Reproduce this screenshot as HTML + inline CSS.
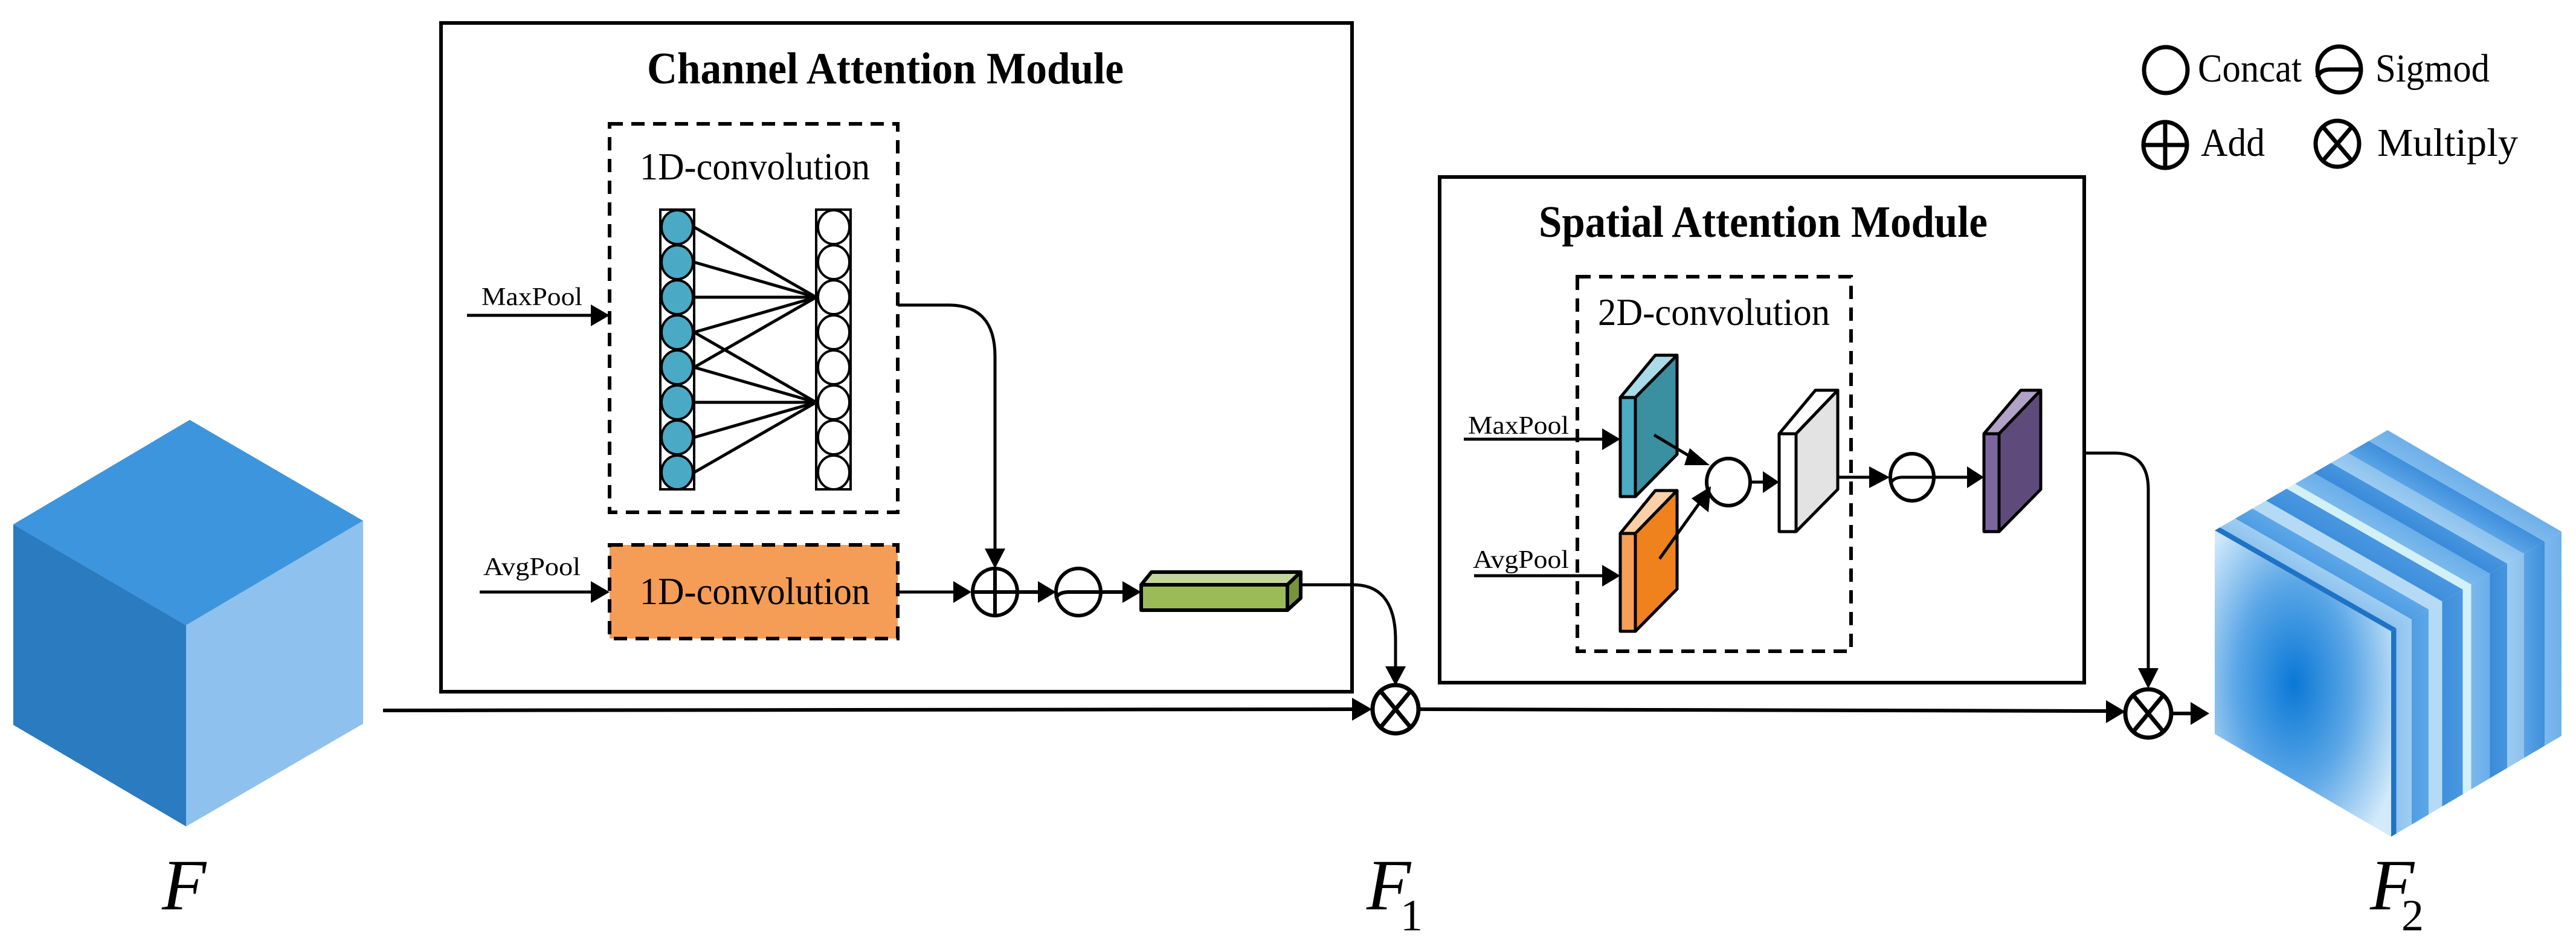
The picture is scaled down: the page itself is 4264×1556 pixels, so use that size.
<!DOCTYPE html>
<html><head><meta charset="utf-8"><style>
html,body{margin:0;padding:0;background:#fff;}
svg{display:block;}
text{font-family:"Liberation Serif",serif;fill:#000;}
</style></head><body>
<svg width="4264" height="1556" viewBox="0 0 4264 1556" xmlns="http://www.w3.org/2000/svg">
<defs>
<radialGradient id="fg" cx="0.45" cy="0.5" r="0.65">
<stop offset="0" stop-color="#0a78d6"/><stop offset="0.5" stop-color="#5aa6e6"/><stop offset="1" stop-color="#d3eafb"/>
</radialGradient>
<linearGradient id="st1" gradientUnits="userSpaceOnUse" x1="3958" y1="1045" x2="4098.6" y2="799.2">
<stop offset="0" stop-color="#1f73c6"/><stop offset="0.03" stop-color="#1f73c6"/>
<stop offset="0.03" stop-color="#8fc3ee"/><stop offset="0.12" stop-color="#9fcdf2"/>
<stop offset="0.12" stop-color="#4f9de3"/><stop offset="0.22" stop-color="#5ea7e8"/>
<stop offset="0.22" stop-color="#b5daf5"/><stop offset="0.3" stop-color="#b5daf5"/>
<stop offset="0.3" stop-color="#3e8fdc"/><stop offset="0.42" stop-color="#4a97e0"/>
<stop offset="0.42" stop-color="#d2f0f8"/><stop offset="0.47" stop-color="#d2f0f8"/>
<stop offset="0.47" stop-color="#7ab8ec"/><stop offset="0.58" stop-color="#6aaee9"/>
<stop offset="0.58" stop-color="#3a8bd9"/><stop offset="0.68" stop-color="#4795df"/>
<stop offset="0.68" stop-color="#9ccbf1"/><stop offset="0.78" stop-color="#8cc2ee"/>
<stop offset="0.78" stop-color="#5aa3e6"/><stop offset="0.9" stop-color="#3f8fdc"/>
<stop offset="0.9" stop-color="#7cb9ec"/><stop offset="1" stop-color="#6fb0ea"/>
</linearGradient>
<linearGradient id="st2" gradientUnits="userSpaceOnUse" x1="3958" y1="0" x2="4240" y2="0">
<stop offset="0" stop-color="#1f73c6"/><stop offset="0.03" stop-color="#1f73c6"/>
<stop offset="0.03" stop-color="#8fc3ee"/><stop offset="0.12" stop-color="#9fcdf2"/>
<stop offset="0.12" stop-color="#4f9de3"/><stop offset="0.22" stop-color="#5ea7e8"/>
<stop offset="0.22" stop-color="#b5daf5"/><stop offset="0.3" stop-color="#b5daf5"/>
<stop offset="0.3" stop-color="#3e8fdc"/><stop offset="0.42" stop-color="#4a97e0"/>
<stop offset="0.42" stop-color="#d2f0f8"/><stop offset="0.47" stop-color="#d2f0f8"/>
<stop offset="0.47" stop-color="#7ab8ec"/><stop offset="0.58" stop-color="#6aaee9"/>
<stop offset="0.58" stop-color="#3a8bd9"/><stop offset="0.68" stop-color="#4795df"/>
<stop offset="0.68" stop-color="#9ccbf1"/><stop offset="0.78" stop-color="#8cc2ee"/>
<stop offset="0.78" stop-color="#5aa3e6"/><stop offset="0.9" stop-color="#3f8fdc"/>
<stop offset="0.9" stop-color="#7cb9ec"/><stop offset="1" stop-color="#6fb0ea"/>
</linearGradient>
</defs>

<!-- Cube F -->
<polygon points="314,695 22,868 308,1035 601,862" fill="#3d95dd"/>
<polygon points="22,868 308,1035 308,1368 22,1200" fill="#2a7bc0"/>
<polygon points="308,1035 601,862 601,1198 308,1368" fill="#8ec1ee"/>
<text x="268" y="1505" font-size="120" font-style="italic">F</text>

<!-- Channel attention module -->
<rect x="730" y="38" width="1508" height="1107" fill="none" stroke="#000" stroke-width="6"/>
<text x="1071" y="138" font-size="74" font-weight="bold" textLength="789" lengthAdjust="spacingAndGlyphs">Channel Attention Module</text>
<rect x="1009" y="205" width="477" height="643" fill="none" stroke="#000" stroke-width="6" stroke-dasharray="22,14"/>
<text x="1059" y="297" font-size="64" textLength="381" lengthAdjust="spacingAndGlyphs">1D-convolution</text>
<rect x="1093" y="347" width="56" height="463" fill="none" stroke="#000" stroke-width="4"/>
<rect x="1351" y="347" width="57" height="463" fill="none" stroke="#000" stroke-width="4"/>
<g stroke="#000" stroke-width="4">
<ellipse cx="1121" cy="376" rx="26" ry="28" fill="#4aa9c4"/>
<ellipse cx="1121" cy="434" rx="26" ry="28" fill="#4aa9c4"/>
<ellipse cx="1121" cy="492" rx="26" ry="28" fill="#4aa9c4"/>
<ellipse cx="1121" cy="550" rx="26" ry="28" fill="#4aa9c4"/>
<ellipse cx="1121" cy="608" rx="26" ry="28" fill="#4aa9c4"/>
<ellipse cx="1121" cy="666" rx="26" ry="28" fill="#4aa9c4"/>
<ellipse cx="1121" cy="724" rx="26" ry="28" fill="#4aa9c4"/>
<ellipse cx="1121" cy="782" rx="26" ry="28" fill="#4aa9c4"/>
<ellipse cx="1380" cy="376" rx="26" ry="28" fill="#fff"/>
<ellipse cx="1380" cy="434" rx="26" ry="28" fill="#fff"/>
<ellipse cx="1380" cy="492" rx="26" ry="28" fill="#fff"/>
<ellipse cx="1380" cy="550" rx="26" ry="28" fill="#fff"/>
<ellipse cx="1380" cy="608" rx="26" ry="28" fill="#fff"/>
<ellipse cx="1380" cy="666" rx="26" ry="28" fill="#fff"/>
<ellipse cx="1380" cy="724" rx="26" ry="28" fill="#fff"/>
<ellipse cx="1380" cy="782" rx="26" ry="28" fill="#fff"/>
<g fill="none" stroke-width="5">
<line x1="1149" y1="376" x2="1351" y2="492"/>
<line x1="1149" y1="434" x2="1351" y2="492"/>
<line x1="1149" y1="492" x2="1351" y2="492"/>
<line x1="1149" y1="550" x2="1351" y2="492"/>
<line x1="1149" y1="608" x2="1351" y2="492"/>
<line x1="1149" y1="550" x2="1351" y2="666"/>
<line x1="1149" y1="608" x2="1351" y2="666"/>
<line x1="1149" y1="666" x2="1351" y2="666"/>
<line x1="1149" y1="724" x2="1351" y2="666"/>
<line x1="1149" y1="782" x2="1351" y2="666"/>
</g>
</g>
<text x="797" y="505" font-size="42" textLength="167" lengthAdjust="spacingAndGlyphs">MaxPool</text>
<line x1="773" y1="522" x2="980" y2="522" stroke="#000" stroke-width="5"/>
<polygon points="978,504 1009,522 978,540" fill="#000"/>
<text x="800" y="952" font-size="42" textLength="161" lengthAdjust="spacingAndGlyphs">AvgPool</text>
<line x1="794" y1="980" x2="980" y2="980" stroke="#000" stroke-width="5"/>
<polygon points="978,962 1009,980 978,998" fill="#000"/>
<rect x="1009" y="902" width="477" height="155" fill="#f59d56" stroke="#000" stroke-width="6" stroke-dasharray="22,14"/>
<text x="1059" y="1000" font-size="64" textLength="381" lengthAdjust="spacingAndGlyphs">1D-convolution</text>
<path d="M1486,505 L1570,505 Q1647,505 1647,590 L1647,910" fill="none" stroke="#000" stroke-width="5"/>
<polygon points="1630,908 1647,941 1664,908" fill="#000"/>
<line x1="1486" y1="980" x2="1580" y2="980" stroke="#000" stroke-width="5"/>
<polygon points="1578,962 1608,980 1578,998" fill="#000"/>
<g fill="none" stroke="#000" stroke-width="6">
<ellipse cx="1647" cy="980" rx="37" ry="39"/>
<line x1="1610" y1="980" x2="1684" y2="980"/>
<line x1="1647" y1="941" x2="1647" y2="1019"/>
<line x1="1684" y1="980" x2="1720" y2="980"/>
<ellipse cx="1785" cy="980" rx="37" ry="39"/>
<path d="M1748,990 Q1752,980 1770,980 L1822,980"/>
<line x1="1822" y1="980" x2="1860" y2="980"/>
</g>
<polygon points="1718,962 1748,980 1718,998" fill="#000"/>
<polygon points="1858,962 1889,980 1858,998" fill="#000"/>
<g stroke="#000" stroke-width="6" stroke-linejoin="round">
<polygon points="1889,968 1906,947 2153,947 2131,968" fill="#c3d69b"/>
<polygon points="2131,968 2153,947 2153,990 2131,1010" fill="#77933c"/>
<rect x="1889" y="968" width="242" height="42" fill="#9bbb59"/>
</g>
<path d="M2153,968 L2240,968 Q2310,968 2310,1060 L2310,1105" fill="none" stroke="#000" stroke-width="5"/>
<polygon points="2293,1103 2310,1135 2327,1103" fill="#000"/>
<line x1="634" y1="1176" x2="2240" y2="1174" stroke="#000" stroke-width="6"/>
<polygon points="2238,1155 2271,1174 2238,1193" fill="#000"/>
<g fill="none" stroke="#000" stroke-width="7">
<ellipse cx="2310" cy="1174" rx="38" ry="40"/>
<line x1="2286" y1="1145" x2="2334" y2="1203"/>
<line x1="2334" y1="1145" x2="2286" y2="1203"/>
</g>
<line x1="2348" y1="1174" x2="3490" y2="1177" stroke="#000" stroke-width="6"/>
<polygon points="3486,1159 3518,1178 3486,1197" fill="#000"/>
<text x="2262" y="1505" font-size="120" font-style="italic">F</text>
<text x="2318" y="1540" font-size="74">1</text>

<!-- Spatial attention module -->
<rect x="2383" y="293" width="1067" height="837" fill="none" stroke="#000" stroke-width="6"/>
<text x="2547" y="392" font-size="74" font-weight="bold" textLength="743" lengthAdjust="spacingAndGlyphs">Spatial Attention Module</text>
<rect x="2611" y="458" width="453" height="620" fill="none" stroke="#000" stroke-width="6" stroke-dasharray="22,14"/>
<text x="2645" y="538" font-size="64" textLength="384" lengthAdjust="spacingAndGlyphs">2D-convolution</text>
<text x="2430" y="718" font-size="42" textLength="167" lengthAdjust="spacingAndGlyphs">MaxPool</text>
<line x1="2423" y1="727" x2="2655" y2="727" stroke="#000" stroke-width="5"/>
<polygon points="2652,709 2682,727 2652,745" fill="#000"/>
<text x="2438" y="940" font-size="42" textLength="159" lengthAdjust="spacingAndGlyphs">AvgPool</text>
<line x1="2440" y1="953" x2="2655" y2="953" stroke="#000" stroke-width="5"/>
<polygon points="2652,935 2682,953 2652,971" fill="#000"/>
<g stroke="#000" stroke-width="5" stroke-linejoin="round">
<polygon points="2682,658 2740,588 2776,588 2707,658" fill="#a9dbe8"/>
<polygon points="2707,658 2776,588 2776,752 2707,822" fill="#3a8fa0"/>
<rect x="2682" y="658" width="25" height="164" fill="#4bacc6"/>
<polygon points="2682,883 2740,812 2776,812 2707,883" fill="#fbd0a8"/>
<polygon points="2707,883 2776,812 2776,975 2707,1045" fill="#f0821e"/>
<rect x="2682" y="883" width="25" height="162" fill="#f6a055"/>
<polygon points="2945,718 3005,646 3042,646 2973,718" fill="#fff"/>
<polygon points="2973,718 3042,646 3042,810 2973,880" fill="#e3e3e3"/>
<rect x="2945" y="718" width="28" height="162" fill="#fff"/>
<polygon points="3284,718 3345,646 3378,646 3309,718" fill="#b3a2c7"/>
<polygon points="3309,718 3378,646 3378,810 3309,880" fill="#5f4b7b"/>
<rect x="3284" y="718" width="25" height="162" fill="#7b66a0"/>
</g>
<g fill="none" stroke="#000" stroke-width="5">
<line x1="2738" y1="720" x2="2805" y2="760"/>
<line x1="2747" y1="925" x2="2815" y2="830"/>
<ellipse cx="2861" cy="798" rx="36" ry="39" stroke-width="6"/>
<line x1="2897" y1="798" x2="2925" y2="798"/>
<line x1="3042" y1="790" x2="3095" y2="790"/>
<ellipse cx="3165" cy="790" rx="36" ry="39" stroke-width="6"/>
<path d="M3130,800 Q3134,790 3150,790 L3201,790"/>
<line x1="3201" y1="790" x2="3260" y2="790"/>
</g>
<polygon points="2797,742 2830,770 2788,770" fill="#000"/>
<polygon points="2800,825 2832,805 2828,848" fill="#000"/>
<polygon points="2918,780 2945,798 2918,816" fill="#000"/>
<polygon points="3094,772 3128,790 3094,808" fill="#000"/>
<polygon points="3256,772 3284,790 3256,808" fill="#000"/>
<path d="M3450,750 L3500,750 Q3556,750 3556,810 L3556,1108" fill="none" stroke="#000" stroke-width="5"/>
<polygon points="3539,1106 3556,1140 3573,1106" fill="#000"/>
<g fill="none" stroke="#000" stroke-width="7">
<ellipse cx="3556" cy="1181" rx="38" ry="40"/>
<line x1="3532" y1="1152" x2="3580" y2="1210"/>
<line x1="3580" y1="1152" x2="3532" y2="1210"/>
</g>
<line x1="3594" y1="1181" x2="3630" y2="1181" stroke="#000" stroke-width="6"/>
<polygon points="3626,1162 3657,1181 3626,1200" fill="#000"/>

<!-- F2 cube -->
<polygon points="3952,712 3666,878 3958,1045 4240,880" fill="url(#st1)"/>
<polygon points="3958,1045 4240,880 4240,1218 3958,1385" fill="url(#st2)"/>
<polygon points="3666,878 3958,1045 3958,1385 3666,1215" fill="url(#fg)"/>
<text x="3923" y="1505" font-size="120" font-style="italic">F</text>
<text x="3975" y="1540" font-size="74">2</text>

<!-- Legend -->
<g fill="none" stroke="#000" stroke-width="7">
<ellipse cx="3585" cy="116" rx="36" ry="38"/>
<ellipse cx="3872" cy="115" rx="36" ry="38"/>
<path d="M3836,128 Q3840,115 3858,115 L3908,115"/>
<ellipse cx="3584" cy="240" rx="36" ry="38"/>
<line x1="3548" y1="240" x2="3620" y2="240"/>
<line x1="3584" y1="202" x2="3584" y2="278"/>
<ellipse cx="3869" cy="238" rx="36" ry="38"/>
<line x1="3846" y1="211" x2="3892" y2="265"/>
<line x1="3892" y1="211" x2="3846" y2="265"/>
</g>
<text x="3638" y="135" font-size="66" textLength="172" lengthAdjust="spacingAndGlyphs">Concat</text>
<text x="3932" y="135" font-size="66" textLength="189" lengthAdjust="spacingAndGlyphs">Sigmod</text>
<text x="3643" y="258" font-size="66" textLength="106" lengthAdjust="spacingAndGlyphs">Add</text>
<text x="3935" y="258" font-size="66" textLength="233" lengthAdjust="spacingAndGlyphs">Multiply</text>
</svg>
</body></html>
